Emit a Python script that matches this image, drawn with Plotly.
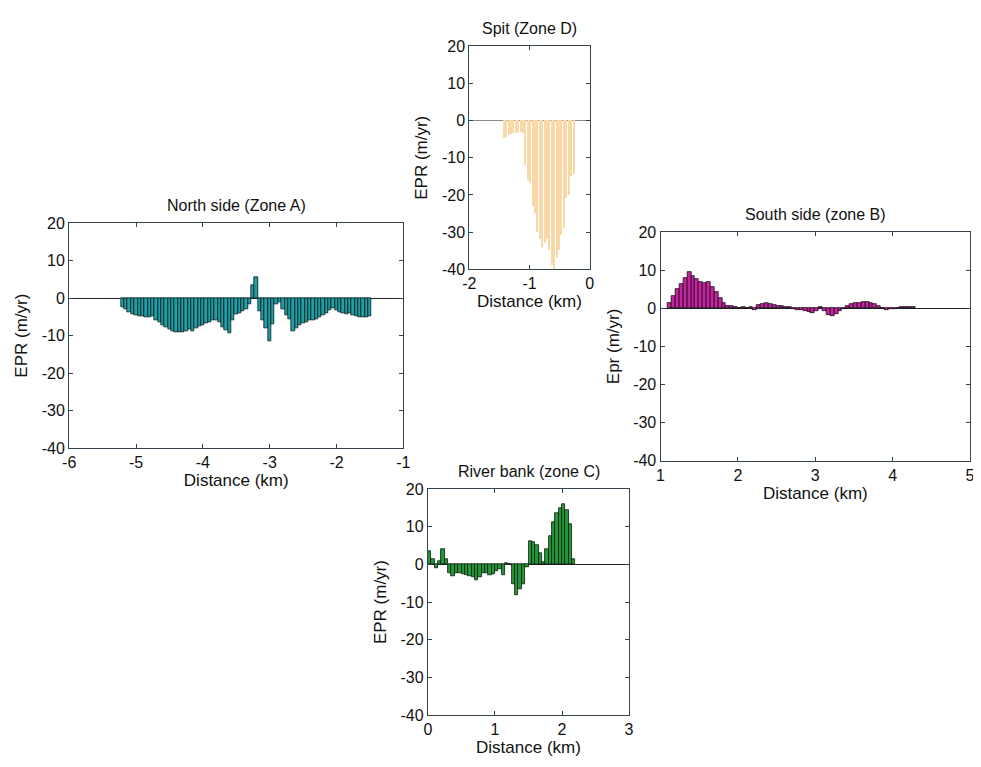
import plotly.graph_objects as go

# ---------------- data ----------------
# Zone A (North side)
dist_a = [-5.20, -5.15, -5.10, -5.05, -5.00, -4.95, -4.90, -4.85, -4.80, -4.75,
          -4.70, -4.65, -4.60, -4.55, -4.50, -4.45, -4.40, -4.35, -4.30, -4.25,
          -4.20, -4.15, -4.10, -4.05, -4.00, -3.95, -3.90, -3.85, -3.80, -3.75,
          -3.70, -3.65, -3.60, -3.55, -3.50, -3.45, -3.40, -3.35, -3.30, -3.25,
          -3.20, -3.15, -3.10, -3.05, -3.00, -2.95, -2.90, -2.85, -2.80, -2.75,
          -2.70, -2.65, -2.60, -2.55, -2.50, -2.45, -2.40, -2.35, -2.30, -2.25,
          -2.20, -2.15, -2.10, -2.05, -2.00, -1.95, -1.90, -1.85, -1.80, -1.75,
          -1.70, -1.65, -1.60, -1.55, -1.50]
epr_a = [-2.5, -3.0, -3.8, -4.2, -4.5, -4.7, -4.8, -5.0, -5.0, -4.8,
         -5.8, -6.5, -7.2, -7.8, -8.3, -8.7, -9.0, -9.2, -9.0, -8.7,
         -8.4, -8.8, -8.0, -7.5, -7.2, -6.8, -6.3, -6.0, -5.8, -6.5,
         -7.7, -8.5, -9.3, -6.0, -4.3, -4.0, -3.6, -3.0, -1.5, 3.5,
         5.5, -3.6, -5.8, -8.0, -11.5, -7.0, -1.5, -1.0, -3.0, -4.5,
         -5.5, -8.8, -8.0, -7.2, -6.8, -6.4, -6.0, -5.8, -5.5, -5.0,
         -4.6, -4.0, -3.2, -2.8, -3.2, -3.8, -4.1, -4.2, -4.1, -4.5,
         -4.8, -5.0, -5.0, -5.0, -4.8]

# Zone D (Spit)
dist_d = [-1.42, -1.38, -1.34, -1.30, -1.26, -1.22, -1.18, -1.14, -1.10, -1.06,
          -1.02, -0.98, -0.94, -0.90, -0.86, -0.82, -0.78, -0.74, -0.70, -0.66,
          -0.62, -0.58, -0.54, -0.50, -0.46, -0.42, -0.38, -0.34, -0.30, -0.26]
epr_d = [-4.8, -4.5, -4.0, -3.8, -3.5, -3.5, -3.2, -3.2, -3.5, -12.0,
         -16.0, -17.0, -23.0, -25.0, -30.0, -32.0, -34.0, -33.0, -32.0, -35.0,
         -39.0, -40.0, -37.0, -35.0, -31.0, -29.0, -21.0, -20.0, -15.0, -14.5]

# Zone B (South side)
dist_b = [1.12, 1.17, 1.22, 1.27, 1.32, 1.37, 1.42, 1.47, 1.52, 1.57,
          1.62, 1.67, 1.72, 1.77, 1.82, 1.87, 1.92, 1.97, 2.02, 2.07,
          2.12, 2.17, 2.22, 2.27, 2.32, 2.37, 2.42, 2.47, 2.52, 2.57,
          2.62, 2.67, 2.72, 2.77, 2.82, 2.87, 2.92, 2.97, 3.02, 3.07,
          3.12, 3.17, 3.22, 3.27, 3.32, 3.37, 3.42, 3.47, 3.52, 3.57,
          3.62, 3.67, 3.72, 3.77, 3.82, 3.87, 3.92, 3.97, 4.02, 4.07,
          4.12, 4.17, 4.22, 4.27]
epr_b = [1.3, 3.2, 5.0, 6.4, 7.9, 9.4, 8.5, 7.7, 6.8, 6.7,
         6.8, 5.6, 4.3, 2.7, 1.3, 0.7, 0.7, 0.2, 0.0, 0.2,
         0.0, 0.35, -0.4, 0.85, 1.2, 1.3, 1.0, 0.85, 0.7, 0.6,
         0.4, 0.2, -0.2, -0.35, -0.5, -0.7, -1.0, -1.3, -0.7, 0.2,
         -0.85, -1.7, -2.1, -1.5, -0.85, -0.2, 0.7, 1.2, 1.4, 1.5,
         1.7, 1.7, 1.5, 1.2, 0.7, 0.0, -0.35, -0.2, -0.1, 0.1,
         0.2, 0.25, 0.35, 0.4]

# Zone C (River bank)
dist_c = [0.025, 0.075, 0.125, 0.175, 0.225, 0.275, 0.325, 0.375, 0.425, 0.475,
          0.525, 0.575, 0.625, 0.675, 0.725, 0.775, 0.825, 0.875, 0.925, 0.975,
          1.025, 1.075, 1.125, 1.175, 1.225, 1.275, 1.325, 1.375, 1.425, 1.475,
          1.525, 1.575, 1.625, 1.675, 1.725, 1.775, 1.825, 1.875, 1.925, 1.975,
          2.025, 2.075, 2.125, 2.175]
epr_c = [3.5, 1.3, -0.9, 0.9, 4.0, 1.5, -2.2, -3.0, -2.3, -2.2,
         -2.6, -2.9, -3.2, -3.5, -4.1, -3.3, -2.2, -2.3, -2.9, -2.6,
         -1.7, -1.3, -2.9, 0.3, 0.0, -5.2, -8.2, -6.5, -5.2, -0.6,
         6.3, 5.8, 5.2, 3.0, 0.6, 4.0, 7.4, 11.3, 13.7, 14.9,
         16.0, 14.5, 10.6, 1.3]

y_ticks = [-40, -30, -20, -10, 0, 10, 20]
y_ticktext = ["-40", "-30", "-20", "-10", "0", "10", "20"]

titles = ["North side (Zone A)", "Spit (Zone D)", "South side (zone B)", "River bank (zone C)"]
ylabels = ["EPR (m/yr)", "EPR (m/yr)", "Epr (m/yr)", "EPR (m/yr)"]
xlabel = "Distance (km)"

xticks = [[-6, -5, -4, -3, -2, -1], [-2, -1, 0], [1, 2, 3, 4, 5], [0, 1, 2, 3]]
xticktext = [["-6", "-5", "-4", "-3", "-2", "-1"], ["-2", "-1", "0"],
             ["1", "2", "3", "4", "5"], ["0", "1", "2", "3"]]
xranges = [[-6, -1], [-2, 0], [1, 5], [0, 3]]

# ---------------- figure ----------------
# the page body has an 8px default margin, so the figure is offset by 8px
OFF = 8
W, H = 981 - OFF, 767 - OFF
FONT = "Liberation Sans, Arial, sans-serif"
FRAME = "#36444e"
TXT = "#111111"

# (x0, x1, ytop, ybot) in page pixels
boxes = [(63, 402, 220, 450),   # A
         (469, 591, 39, 267),   # D
         (663, 977, 229, 463),  # B
         (427, 631, 492, 723)]  # C

series = [(dist_a, epr_a, "#1c9fa6", 0.05, dict(color="#0a1a1a", width=0.8)),
          (dist_d, epr_d, "#f9d8a8", 0.02, dict(width=0)),
          (dist_b, epr_b, "#c4249f", 0.05, dict(color="#1a0a14", width=0.8)),
          (dist_c, epr_c, "#23983a", 0.05, dict(color="#0a1a0a", width=0.8))]

fig = go.Figure()
layout = dict(width=W, height=H, margin=dict(l=0, r=0, t=0, b=0),
              paper_bgcolor="white", plot_bgcolor="white", showlegend=False,
              bargap=0, annotations=[])

for i, ((x, y, col, w, ln), box) in enumerate(zip(series, boxes)):
    n = "" if i == 0 else str(i + 1)
    fig.add_trace(go.Bar(x=x, y=y, width=w, marker=dict(color=col, line=ln),
                         xaxis="x" + n, yaxis="y" + n, hoverinfo="x+y"))
    x0, x1, yt, yb = [v - OFF for v in box]
    zc = "#8a8a8a" if i == 1 else "#1a2222"
    layout["xaxis" + n] = dict(domain=[x0 / W, min(x1 / W, 1.0)], range=xranges[i], anchor="y" + n,
                               tickvals=xticks[i], ticktext=xticktext[i],
                               ticks="inside", ticklen=4, tickcolor=FRAME,
                               ticklabeloverflow="allow",
                               showline=True, linecolor=FRAME, linewidth=1.2, mirror="ticks",
                               showgrid=False, zeroline=False,
                               tickfont=dict(family=FONT, size=16, color=TXT),
                               title=dict(text=xlabel, standoff=3,
                                          font=dict(family=FONT, size=17, color=TXT)))
    layout["yaxis" + n] = dict(domain=[1 - yb / H, 1 - yt / H], range=[-40, 20], anchor="x" + n,
                               tickvals=y_ticks, ticktext=y_ticktext,
                               ticks="inside", ticklen=4, tickcolor=FRAME,
                               showline=True, linecolor=FRAME, linewidth=1.2, mirror="ticks",
                               showgrid=False, zeroline=True, zerolinecolor=zc, zerolinewidth=1.2,
                               tickfont=dict(family=FONT, size=16, color=TXT),
                               title=dict(text=ylabels[i], standoff=9,
                                          font=dict(family=FONT, size=17, color=TXT)))
    layout["annotations"].append(dict(text=titles[i], xref="paper", yref="paper",
                                      x=(x0 + x1) / 2 / W, y=1 - yt / H, xanchor="center",
                                      yanchor="bottom", yshift=7, showarrow=False,
                                      font=dict(family=FONT, size=16, color=TXT)))

fig.update_layout(**layout)
fig.write_html("out.html")
